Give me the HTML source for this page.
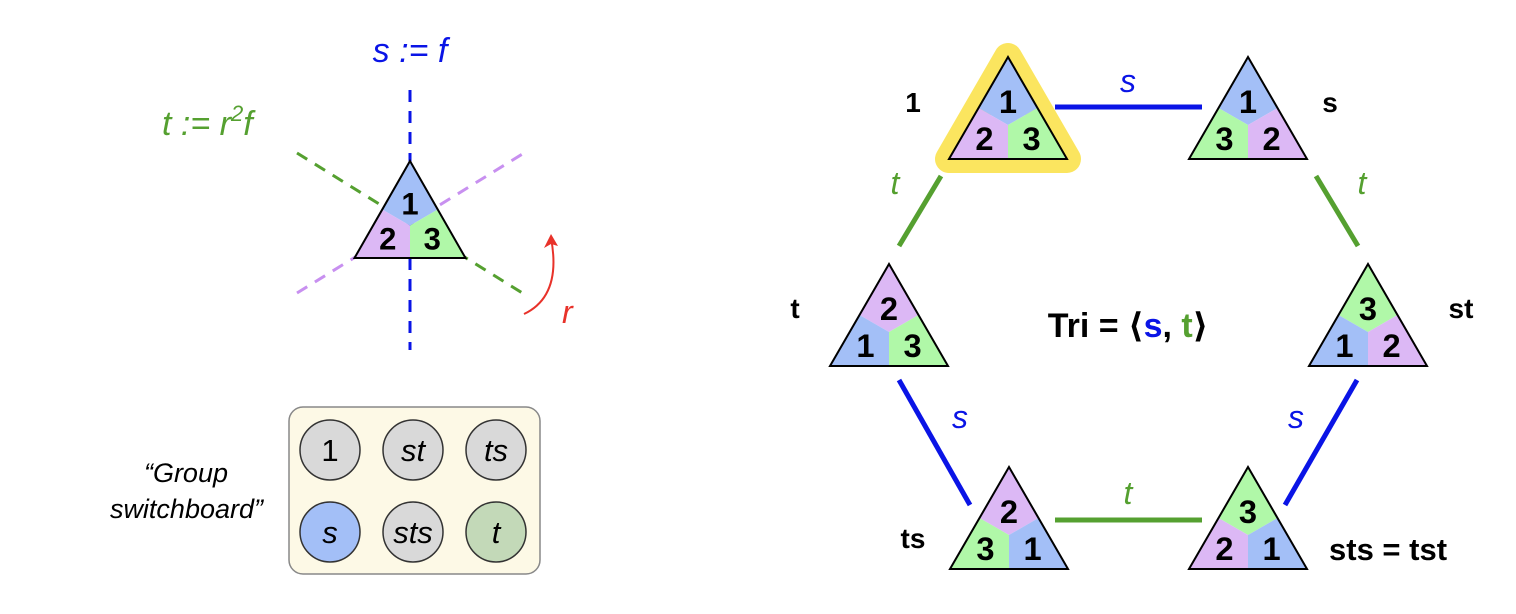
<!DOCTYPE html>
<html><head><meta charset="utf-8"><style>
html,body{margin:0;padding:0;background:#fff}
svg{display:block}
text{font-family:"Liberation Sans","DejaVu Sans",sans-serif}
</style></head><body>
<svg id="svg" width="1516" height="614" viewBox="0 0 1516 614" xmlns="http://www.w3.org/2000/svg">
<g stroke-width="3" stroke-dasharray="12,9" fill="none">
  <line x1="297" y1="293" x2="524" y2="153" stroke="#c890f0"/>
  <line x1="297" y1="153" x2="524" y2="294" stroke="#55a030"/>
  <line x1="410" y1="90" x2="410" y2="350" stroke="#0a14e6"/>
</g>
<g id="tris"></g>
<text x="410" y="62" font-size="34" font-style="italic" fill="#0a14e6" text-anchor="middle">s := f</text>
<text x="162" y="135" font-size="34" font-style="italic" fill="#55a030">t := r<tspan font-size="22" dy="-14">2</tspan><tspan dy="14">f</tspan></text>
<path d="M524,314 Q562,296 551,238" stroke="#e8322a" stroke-width="2" fill="none"/>
<path d="M551,234 L544,248 L551,244 L558,246 Z" fill="#e8322a"/>
<text x="562" y="323" font-size="32" font-style="italic" fill="#e8322a">r</text>

<g>
<rect x="289" y="407" width="251" height="167" rx="14" fill="#fdf9e6" stroke="#888" stroke-width="1.5"/>
<g id="sw"></g>
</g>
<text x="228" y="482" font-size="27" font-style="italic" text-anchor="end">“Group</text>
<text x="263" y="518" font-size="27" font-style="italic" text-anchor="end">switchboard”</text>

<g id="edges" stroke-width="5"></g>
<text x="1128" y="337" font-size="34" font-weight="bold" text-anchor="middle">Tri = ⟨<tspan fill="#0a14e6">s</tspan>, <tspan fill="#55a030">t</tspan>⟩</text>
<g id="lbls" font-size="28" font-weight="bold"></g>
</svg>
<script>
const NS="http://www.w3.org/2000/svg";
const col={1:"#a3bff7",2:"#dcb8f5",3:"#b0f8a8"};
function el(t,a,p){const e=document.createElementNS(NS,t);for(const k in a)e.setAttribute(k,a[k]);p.appendChild(e);return e;}
function tri(cx,ay,w,h,lab,name,halo){
  const g=el("g",{},document.getElementById("tris"));
  
  
  const L=cx-w/2,R=cx+w/2,B=ay+h,cy=ay+h*2/3;
  if(halo){el("polygon",{points:`${cx},${ay} ${L},${B} ${R},${B}`,fill:"none",stroke:"#fbe55f","stroke-width":28,"stroke-linejoin":"round"},g);}
  const mlx=(cx+L)/2,mly=(ay+B)/2,mrx=(cx+R)/2;
  el("polygon",{points:`${cx},${ay} ${mrx},${mly} ${cx},${cy} ${mlx},${mly}`,fill:col[lab[0]]},g);
  el("polygon",{points:`${mlx},${mly} ${cx},${cy} ${cx},${B} ${L},${B}`,fill:col[lab[1]]},g);
  el("polygon",{points:`${mrx},${mly} ${cx},${cy} ${cx},${B} ${R},${B}`,fill:col[lab[2]]},g);
  el("polygon",{points:`${cx},${ay} ${L},${B} ${R},${B}`,fill:"none",stroke:"#000","stroke-width":2},g);
  const fs=h*0.32;
  const pos=[[cx,ay+h*0.55],[cx-w*0.2,B-h*0.09],[cx+w*0.2,B-h*0.09]];
  lab.forEach((n,i)=>{const t=el("text",{x:pos[i][0],y:pos[i][1],"font-size":fs,"font-weight":"bold","text-anchor":"middle"},g);t.textContent=n;});
}
tri(410,161,111,97,[1,2,3],"reference-triangle");
tri(1008,57,118,102,[1,2,3],"triangle-1",true);
tri(1248,57,118,102,[1,3,2],"triangle-s");
tri(889,264,118,102,[2,1,3],"triangle-t");
tri(1368,264,118,102,[3,1,2],"triangle-st");
tri(1009,467,118,102,[2,3,1],"triangle-ts");
tri(1248,467,118,102,[3,2,1],"triangle-sts");

const edges=[[1055,107,1202,107,"#0a14e6","s",1128,92,"edge-1-s"],
[941,176,899,246,"#55a030","t",895,194,"edge-1-t"],
[1316,176,1358,246,"#55a030","t",1362,194,"edge-s-st"],
[899,380,970,505,"#0a14e6","s",960,428,"edge-t-ts"],
[1357,380,1285,505,"#0a14e6","s",1296,428,"edge-st-sts"],
[1055,520,1202,520,"#55a030","t",1128,504,"edge-ts-sts"]];
const eg=document.getElementById("edges");
edges.forEach(e=>{const l=el("line",{x1:e[0],y1:e[1],x2:e[2],y2:e[3],stroke:e[4]},eg);


const t=el("text",{x:e[6],y:e[7],"font-size":32,"font-style":"italic",fill:e[4],"text-anchor":"middle","stroke-width":0},eg);t.textContent=e[5];

});

const lbls=[["1",913,112,"middle",28],["s",1330,112,"middle",28],["t",795,318,"middle",28],["st",1461,318,"middle",28],["ts",913,548,"middle",28],["sts = tst",1329,560,"start",31]];
const lg=document.getElementById("lbls");
lbls.forEach(a=>{const t=el("text",{x:a[1],y:a[2],"text-anchor":a[3],"font-size":a[4]},lg);t.textContent=a[0];

});

const sw=[["1",330,450,"#d9d9d9",false],["st",413,450,"#d9d9d9",true],["ts",496,450,"#d9d9d9",true],["s",330,532,"#a3bff7",true],["sts",413,532,"#d9d9d9",true],["t",496,532,"#c3d9b8",true]];
const sg=document.getElementById("sw");
sw.forEach(a=>{const g=el("g",{},sg);


el("circle",{cx:a[1],cy:a[2],r:30,fill:a[3],stroke:"#333","stroke-width":1.5},g);
const t=el("text",{x:a[1],y:a[2]+11,"font-size":31,"text-anchor":"middle","font-style":a[4]?"italic":"normal"},g);t.textContent=a[0];});
</script>
</body></html>
